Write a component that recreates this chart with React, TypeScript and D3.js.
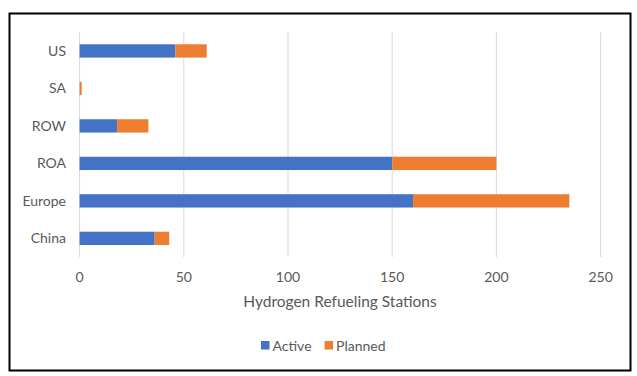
import React from "react";
import * as d3 from "d3";

const categories = ["US", "SA", "ROW", "ROA", "Europe", "China"];
const activeValues = [46, 0, 18, 150, 160, 36];
const plannedValues = [15, 1, 15, 50, 75, 7];
const xTicks = [0, 50, 100, 150, 200, 250];
const seriesNames = ["Active", "Planned"];
const seriesColors = ["#4472C4", "#ED7D31"];

export default function App() {
  const W = 637, H = 376;
  const x = d3.scaleLinear().domain([0, 250]).range([79.6, 600.6]);
  const y = d3.scaleBand().domain(categories).range([32.3, 257]).paddingInner(0.645).paddingOuter(0.32);
  const rows = categories.map((c, i) => ({ c, a: activeValues[i], p: plannedValues[i] }));
  const stack = d3.stack<any>().keys(["a", "p"])(rows);
  const font = "Lato, 'Open Sans', sans-serif";
  const txt = "#595959";
  return (
    <svg width={W} height={H} style={{ position: "absolute", left: 0, top: 0, background: "#fff" }} fontFamily={font}>
      <rect x={0} y={0} width={W} height={H} fill="#fff" />
      <rect x={9.5} y={13.5} width={621} height={357} fill="none" stroke="#000" strokeWidth={2} />
      {xTicks.map((t) => (
        <g key={t}>
          <line x1={x(t)} x2={x(t)} y1={32.3} y2={257} stroke="#D9D9D9" strokeWidth={1} />
          <text x={x(t)} y={282} textAnchor="middle" fontSize={14} fill={txt}>{t}</text>
        </g>
      ))}
      {stack.map((s, si) =>
        s.map((d, i) => (
          <rect key={si + "-" + i} x={x(d[0])} y={y(categories[i])!} width={Math.max(0, x(d[1]) - x(d[0]))} height={y.bandwidth()} fill={seriesColors[si]} />
        ))
      )}
      {categories.map((c) => (
        <text key={c} x={66} y={y(c)! + y.bandwidth() / 2} dy="0.35em" textAnchor="end" fontSize={14} fill={txt}>{c}</text>
      ))}
      <text x={340} y={307} textAnchor="middle" fontSize={15.5} fill={txt}>Hydrogen Refueling Stations</text>
      {seriesNames.map((n, i) => {
        const lx = i === 0 ? 261 : 324.6;
        return (
          <g key={n}>
            <rect x={lx} y={341} width={8.5} height={8.5} fill={seriesColors[i]} />
            <text x={lx + 11.5} y={350.5} fontSize={14} fill={txt}>{n}</text>
          </g>
        );
      })}
    </svg>
  );
}
